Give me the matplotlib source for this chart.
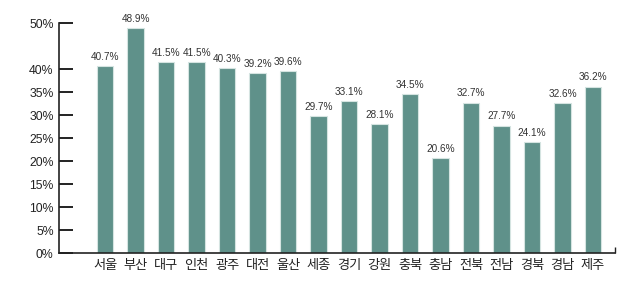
import numpy as np
import matplotlib.pyplot as plt

regions = ['서울', '부산', '대구', '인천', '광주', '대전', '울산', '세종', '경기',
           '강원', '충북', '충남', '전북', '전남', '경북', '경남', '제주']
rates = [40.7, 48.9, 41.5, 41.5, 40.3, 39.2, 39.6, 29.7, 33.1,
         28.1, 34.5, 20.6, 32.7, 27.7, 24.1, 32.6, 36.2]
yticks = [0, 5, 10, 15, 20, 25, 30, 35, 40, 50]

plt.rcParams['font.family'] = ['Liberation Sans', 'Noto Sans CJK KR']

fig = plt.figure(figsize=(6.3, 2.81), dpi=100)
ax = fig.add_axes([0.094, 0.0996, 0.882, 0.8184])

x = np.arange(len(regions))
bars = ax.bar(x, rates, width=0.54, color='#5f918a', edgecolor='#d5e4e1', linewidth=0.8)

for xi, v in zip(x, rates):
    ax.text(xi, v + 0.9, f'{v}%', ha='center', va='bottom', fontsize=7.2, color='#333333')

ax.set_xlim(-1.51, len(regions) - 0.28)
ax.set_ylim(0, 50)
ax.set_yticks(yticks)
ax.set_yticklabels([f'{t}%' for t in yticks], fontsize=8.8, color='#222222')
ax.tick_params(axis='y', direction='in', length=10, width=1.4, color='#222222', pad=4)

ax.set_xticks(x)
ax.set_xticklabels(regions, family=['Noto Sans CJK KR'], fontsize=9.5, color='#222222')
ax.tick_params(axis='x', length=0, pad=4)
# little end tick at right of x axis
ax.set_xticks([len(regions) - 0.28], minor=True)
ax.tick_params(axis='x', which='minor', direction='in', length=4, width=1, color='#222222')

for s in ['top', 'right']:
    ax.spines[s].set_visible(False)
for s in ['left', 'bottom']:
    ax.spines[s].set_color('#222222')
    ax.spines[s].set_linewidth(1.2)

fig.savefig('out.png', dpi=100)
